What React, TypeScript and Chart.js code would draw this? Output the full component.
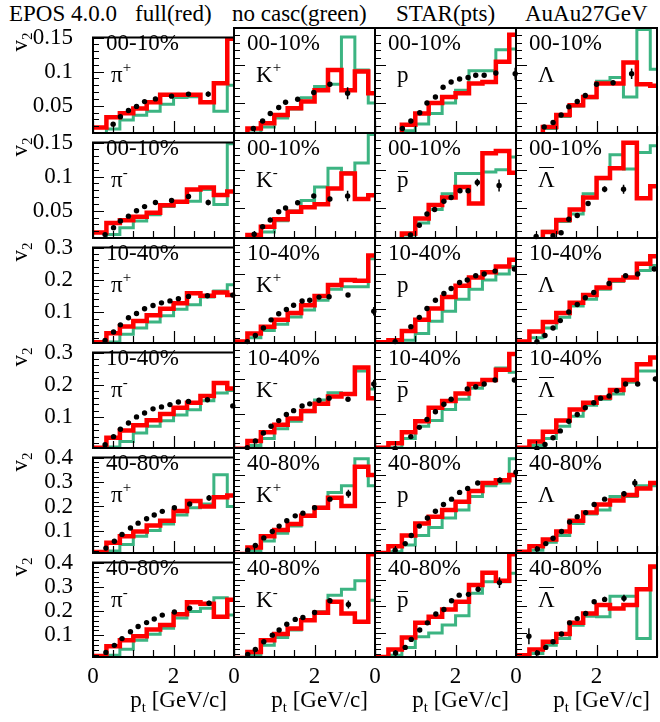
import React, { useEffect, useRef } from 'react';
import { Chart, registerables } from 'chart.js';
Chart.register(...registerables);

const FONT = "'Liberation Serif', 'Times New Roman', serif";
const RED = '#ff0000';
const GREEN = '#3cb482';
Chart.defaults.font.family = FONT;

// ---------- axes / categories ----------
const ptBinEdges = [0, 0.333, 0.667, 1.0, 1.333, 1.667, 2.0, 2.333, 2.667, 3.0, 3.333, 3.667];
const xTickLabels = [0, 2];
const yTickLabels015 = [0.05, 0.1, 0.15];
const yTickLabels03 = [0.1, 0.2, 0.3];
const yTickLabels04 = [0.1, 0.2, 0.3, 0.4];
const centralityLabels = ['00-10%', '00-10%', '10-40%', '10-40%', '40-80%', '40-80%'];
const titleParts = ['EPOS 4.0.0', 'full(red)', 'no casc(green)', 'STAR(pts)', 'AuAu27GeV'];

// ---------- 00-10%, positive ----------
const full_0010_piP = [0.018, 0.033, 0.039, 0.046, 0.055, 0.066, 0.066, 0.066, 0.055, 0.083, 0.148];
const nocasc_0010_piP = [0.008, 0.016, 0.029, 0.036, 0.042, 0.052, 0.062, 0.063, 0.055, 0.042, 0.08];
const star_0010_piP_pt = [0.5, 0.68, 0.88, 1.08, 1.28, 1.55, 1.95, 2.37, 2.86];
const star_0010_piP_v2 = [0.023, 0.034, 0.043, 0.049, 0.056, 0.06, 0.064, 0.067, 0.067];
const star_0010_piP_err = [0.001, 0.001, 0.001, 0.001, 0.001, 0.001, 0.002, 0.002, 0.004];

const full_0010_KP = [0.005, 0.016, 0.023, 0.034, 0.043, 0.052, 0.067, 0.094, 0.067, 0.092, 0.063];
const nocasc_0010_KP = [0.003, 0.01, 0.018, 0.03, 0.042, 0.057, 0.072, 0.075, 0.138, 0.094, 0.05];
const star_0010_KP_pt = [0.48, 0.71, 0.9, 1.11, 1.28, 1.58, 1.98, 2.38, 2.82];
const star_0010_KP_v2 = [0.016, 0.026, 0.036, 0.044, 0.051, 0.055, 0.064, 0.075, 0.063];
const star_0010_KP_err = [0.001, 0.001, 0.001, 0.001, 0.001, 0.002, 0.002, 0.003, 0.008];

const full_0010_p = [0.003, 0.008, 0.021, 0.036, 0.05, 0.058, 0.063, 0.076, 0.078, 0.105, 0.141];
const nocasc_0010_p = [0.002, 0.006, 0.013, 0.022, 0.036, 0.05, 0.067, 0.093, 0.093, 0.121, 0.122];
const star_0010_p_pt = [0.68, 0.89, 1.11, 1.29, 1.5, 1.69, 1.89, 2.1, 2.31, 2.5, 2.71, 3.0, 3.48];
const star_0010_p_v2 = [0.016, 0.026, 0.037, 0.05, 0.058, 0.071, 0.078, 0.082, 0.084, 0.087, 0.087, 0.09, 0.089];
const star_0010_p_err = [0.001, 0.001, 0.001, 0.001, 0.001, 0.001, 0.001, 0.001, 0.001, 0.002, 0.002, 0.003, 0.008];

const full_0010_L = [0.003, 0.008, 0.018, 0.034, 0.047, 0.058, 0.076, 0.076, 0.104, 0.075, 0.073];
const nocasc_0010_L = [0.002, 0.007, 0.016, 0.032, 0.046, 0.057, 0.079, 0.084, 0.058, 0.148, 0.095];
const star_0010_L_pt = [0.7, 0.92, 1.12, 1.31, 1.52, 1.72, 2.0, 2.41, 2.87];
const star_0010_L_v2 = [0.018, 0.024, 0.034, 0.045, 0.052, 0.06, 0.075, 0.077, 0.089];
const star_0010_L_err = [0.001, 0.001, 0.001, 0.001, 0.001, 0.002, 0.002, 0.003, 0.007];

// ---------- 00-10%, negative ----------
const full_0010_piM = [0.018, 0.032, 0.036, 0.041, 0.047, 0.058, 0.063, 0.081, 0.084, 0.073, 0.078];
const nocasc_0010_piM = [0.008, 0.015, 0.025, 0.035, 0.044, 0.056, 0.063, 0.064, 0.081, 0.059, 0.148];
const star_0010_piM_pt = [0.3, 0.51, 0.68, 0.88, 1.08, 1.28, 1.55, 1.95, 2.37, 2.86];
const star_0010_piM_v2 = [0.015, 0.025, 0.035, 0.042, 0.05, 0.056, 0.062, 0.065, 0.071, 0.062];
const star_0010_piM_err = [0.001, 0.001, 0.001, 0.001, 0.001, 0.001, 0.001, 0.002, 0.002, 0.004];

const full_0010_KM = [0.004, 0.014, 0.025, 0.035, 0.045, 0.051, 0.055, 0.076, 0.096, 0.062, 0.067];
const nocasc_0010_KM = [0.003, 0.01, 0.018, 0.033, 0.046, 0.06, 0.078, 0.103, 0.097, 0.11, 0.148];
const star_0010_KM_pt = [0.5, 0.71, 0.9, 1.11, 1.28, 1.58, 1.98, 2.38, 2.82];
const star_0010_KM_v2 = [0.015, 0.025, 0.034, 0.045, 0.05, 0.057, 0.066, 0.062, 0.066];
const star_0010_KM_err = [0.001, 0.001, 0.001, 0.001, 0.001, 0.002, 0.002, 0.003, 0.007];

const full_0010_pbar = [0.002, 0.006, 0.016, 0.036, 0.054, 0.064, 0.078, 0.056, 0.123, 0.126, 0.097];
const nocasc_0010_pbar = [0.002, 0.006, 0.014, 0.03, 0.048, 0.069, 0.096, 0.096, 0.098, 0.101, 0.118];
const star_0010_pbar_pt = [0.88, 1.1, 1.29, 1.48, 1.71, 1.89, 2.11, 2.31, 2.54, 3.08];
const star_0010_pbar_v2 = [0.014, 0.027, 0.042, 0.048, 0.059, 0.064, 0.073, 0.073, 0.084, 0.08];
const star_0010_pbar_err = [0.001, 0.001, 0.001, 0.001, 0.002, 0.002, 0.003, 0.003, 0.005, 0.008];

const full_0010_Lbar = [0.002, 0.006, 0.018, 0.034, 0.048, 0.064, 0.09, 0.103, 0.137, 0.063, 0.079];
const nocasc_0010_Lbar = [0.002, 0.006, 0.019, 0.032, 0.042, 0.069, 0.089, 0.121, 0.102, 0.124, 0.133];
const star_0010_Lbar_pt = [0.5, 0.92, 1.12, 1.31, 1.52, 1.79, 2.2, 2.67];
const star_0010_Lbar_v2 = [0.012, 0.013, 0.017, 0.035, 0.04, 0.056, 0.075, 0.075];
const star_0010_Lbar_err = [0.002, 0.002, 0.002, 0.002, 0.002, 0.003, 0.004, 0.006];

// ---------- 10-40%, positive ----------
const full_1040_piP = [0.007, 0.035, 0.056, 0.073, 0.091, 0.111, 0.128, 0.159, 0.151, 0.161, 0.153];
const nocasc_1040_piP = [0.003, 0.008, 0.032, 0.051, 0.07, 0.089, 0.109, 0.123, 0.147, 0.166, 0.185];
const star_1040_piP_pt = [0.3, 0.51, 0.68, 0.88, 1.08, 1.28, 1.49, 1.7, 1.91, 2.12, 2.37, 2.84, 3.47];
const star_1040_piP_v2 = [0.013, 0.039, 0.061, 0.083, 0.096, 0.111, 0.121, 0.129, 0.135, 0.142, 0.149, 0.151, 0.153];
const star_1040_piP_err = [0.001, 0.001, 0.001, 0.001, 0.001, 0.001, 0.001, 0.001, 0.001, 0.002, 0.002, 0.003, 0.005];

const full_1040_KP = [0.009, 0.032, 0.051, 0.07, 0.089, 0.111, 0.137, 0.168, 0.182, 0.18, 0.251];
const nocasc_1040_KP = [0.005, 0.02, 0.04, 0.058, 0.078, 0.098, 0.125, 0.156, 0.163, 0.163, 0.242];
const star_1040_KP_pt = [0.33, 0.53, 0.73, 0.92, 1.11, 1.3, 1.48, 1.69, 1.88, 2.11, 2.36, 2.83, 3.47];
const star_1040_KP_v2 = [0.009, 0.026, 0.047, 0.07, 0.087, 0.099, 0.111, 0.123, 0.125, 0.134, 0.135, 0.14, 0.094];
const star_1040_KP_err = [0.001, 0.001, 0.001, 0.001, 0.001, 0.001, 0.001, 0.002, 0.002, 0.002, 0.003, 0.005, 0.012];

const full_1040_p = [0.007, 0.013, 0.039, 0.07, 0.102, 0.134, 0.166, 0.189, 0.204, 0.22, 0.239];
const nocasc_1040_p = [0.004, 0.006, 0.013, 0.032, 0.066, 0.094, 0.128, 0.156, 0.182, 0.199, 0.22];
const star_1040_p_pt = [0.5, 0.89, 1.1, 1.29, 1.5, 1.71, 1.89, 2.1, 2.29, 2.5, 2.71, 2.98, 3.46];
const star_1040_p_v2 = [0.009, 0.051, 0.077, 0.102, 0.125, 0.144, 0.158, 0.175, 0.182, 0.194, 0.199, 0.207, 0.213];
const star_1040_p_err = [0.001, 0.001, 0.001, 0.001, 0.001, 0.001, 0.001, 0.001, 0.002, 0.002, 0.002, 0.003, 0.005];

const full_1040_L = [0.009, 0.037, 0.064, 0.089, 0.118, 0.14, 0.161, 0.182, 0.189, 0.228, 0.249];
const nocasc_1040_L = [0.005, 0.02, 0.047, 0.077, 0.109, 0.128, 0.156, 0.178, 0.19, 0.209, 0.223];
const star_1040_L_pt = [0.52, 0.72, 0.92, 1.1, 1.31, 1.52, 1.72, 1.93, 2.31, 2.72, 3.02, 3.43];
const star_1040_L_v2 = [0.009, 0.026, 0.047, 0.068, 0.092, 0.113, 0.132, 0.147, 0.172, 0.194, 0.199, 0.213];
const star_1040_L_err = [0.001, 0.001, 0.001, 0.001, 0.001, 0.001, 0.001, 0.002, 0.002, 0.003, 0.004, 0.006];

// ---------- 10-40%, negative ----------
const full_1040_piM = [0.006, 0.037, 0.059, 0.075, 0.091, 0.11, 0.129, 0.145, 0.166, 0.206, 0.189];
const nocasc_1040_piM = [0.003, 0.008, 0.025, 0.051, 0.072, 0.089, 0.107, 0.123, 0.151, 0.175, 0.183];
const star_1040_piM_pt = [0.3, 0.51, 0.68, 0.88, 1.08, 1.28, 1.49, 1.7, 1.91, 2.12, 2.37, 2.84, 3.47];
const star_1040_piM_v2 = [0.015, 0.04, 0.063, 0.082, 0.101, 0.113, 0.126, 0.132, 0.139, 0.147, 0.149, 0.154, 0.135];
const star_1040_piM_err = [0.001, 0.001, 0.001, 0.001, 0.001, 0.001, 0.001, 0.001, 0.001, 0.002, 0.002, 0.003, 0.005];

const full_1040_KM = [0.003, 0.025, 0.049, 0.07, 0.088, 0.109, 0.129, 0.15, 0.157, 0.231, 0.145];
const nocasc_1040_KM = [0.002, 0.012, 0.032, 0.059, 0.08, 0.107, 0.14, 0.16, 0.156, 0.221, 0.171];
const star_1040_KM_pt = [0.33, 0.53, 0.73, 0.92, 1.11, 1.3, 1.48, 1.69, 1.88, 2.11, 2.36, 2.83, 3.47];
const star_1040_KM_v2 = [0.006, 0.025, 0.047, 0.066, 0.082, 0.099, 0.11, 0.123, 0.129, 0.139, 0.145, 0.142, 0.185];
const star_1040_KM_err = [0.001, 0.001, 0.001, 0.001, 0.001, 0.001, 0.001, 0.002, 0.002, 0.002, 0.003, 0.005, 0.012];

const full_1040_pbar = [0.006, 0.018, 0.049, 0.08, 0.118, 0.137, 0.158, 0.185, 0.196, 0.225, 0.269];
const nocasc_1040_pbar = [0.003, 0.006, 0.032, 0.066, 0.082, 0.113, 0.142, 0.173, 0.196, 0.23, 0.218];
const star_1040_pbar_pt = [0.5, 0.89, 1.1, 1.29, 1.5, 1.71, 1.89, 2.29, 2.5, 2.71, 2.98, 3.46];
const star_1040_pbar_v2 = [0.003, 0.037, 0.063, 0.085, 0.107, 0.128, 0.142, 0.171, 0.177, 0.185, 0.196, 0.196];
const star_1040_pbar_err = [0.001, 0.001, 0.001, 0.001, 0.001, 0.001, 0.002, 0.002, 0.002, 0.003, 0.003, 0.006];

const full_1040_Lbar = [0.006, 0.023, 0.051, 0.082, 0.113, 0.132, 0.147, 0.168, 0.196, 0.24, 0.259];
const nocasc_1040_Lbar = [0.003, 0.012, 0.032, 0.066, 0.094, 0.125, 0.142, 0.157, 0.19, 0.221, 0.221];
const star_1040_Lbar_pt = [0.52, 0.72, 0.92, 1.1, 1.31, 1.52, 1.72, 1.93, 2.1, 2.31, 2.5, 2.72, 3.02, 3.46];
const star_1040_Lbar_v2 = [0.004, 0.015, 0.034, 0.053, 0.08, 0.099, 0.118, 0.132, 0.145, 0.151, 0.166, 0.185, 0.185, 0.199];
const star_1040_Lbar_err = [0.001, 0.001, 0.001, 0.001, 0.001, 0.001, 0.001, 0.002, 0.002, 0.002, 0.002, 0.003, 0.004, 0.006];

// ---------- 40-80%, positive ----------
const full_4080_piP = [0.014, 0.052, 0.078, 0.098, 0.122, 0.142, 0.182, 0.222, 0.2, 0.238, 0.245];
const nocasc_4080_piP = [0.01, 0.018, 0.045, 0.078, 0.102, 0.128, 0.165, 0.195, 0.21, 0.33, 0.2];
const star_4080_piP_pt = [0.32, 0.53, 0.72, 0.93, 1.12, 1.33, 1.52, 1.72, 2.02, 2.4, 2.88];
const star_4080_piP_v2 = [0.03, 0.058, 0.086, 0.112, 0.132, 0.15, 0.165, 0.18, 0.195, 0.21, 0.235];
const star_4080_piP_err = [0.002, 0.002, 0.002, 0.002, 0.002, 0.002, 0.003, 0.003, 0.004, 0.006, 0.012];

const full_4080_KP = [0.006, 0.03, 0.072, 0.095, 0.118, 0.148, 0.178, 0.215, 0.185, 0.33, 0.3];
const nocasc_4080_KP = [0.005, 0.018, 0.055, 0.083, 0.11, 0.15, 0.18, 0.235, 0.26, 0.36, 0.26];
const star_4080_KP_pt = [0.34, 0.53, 0.74, 0.95, 1.12, 1.31, 1.52, 1.71, 2.0, 2.38, 2.84];
const star_4080_KP_v2 = [0.02, 0.038, 0.066, 0.09, 0.11, 0.13, 0.148, 0.158, 0.178, 0.21, 0.23];
const star_4080_KP_err = [0.002, 0.002, 0.002, 0.002, 0.002, 0.003, 0.003, 0.004, 0.005, 0.008, 0.015];

const full_4080_p = [0.01, 0.035, 0.075, 0.12, 0.145, 0.17, 0.2, 0.24, 0.27, 0.28, 0.3];
const nocasc_4080_p = [0.005, 0.015, 0.04, 0.075, 0.105, 0.14, 0.17, 0.22, 0.26, 0.27, 0.36];
const star_4080_p_pt = [0.5, 0.75, 0.9, 1.1, 1.3, 1.5, 1.7, 1.9, 2.1, 2.3, 2.55, 3.1, 3.5];
const star_4080_p_v2 = [0.02, 0.045, 0.075, 0.11, 0.14, 0.165, 0.19, 0.21, 0.235, 0.25, 0.27, 0.28, 0.31];
const star_4080_p_err = [0.002, 0.002, 0.002, 0.002, 0.002, 0.003, 0.003, 0.003, 0.004, 0.005, 0.006, 0.01, 0.02];

const full_4080_L = [0.015, 0.035, 0.06, 0.09, 0.13, 0.16, 0.19, 0.205, 0.225, 0.25, 0.27];
const nocasc_4080_L = [0.01, 0.02, 0.05, 0.075, 0.12, 0.155, 0.17, 0.22, 0.22, 0.26, 0.26];
const star_4080_L_pt = [0.53, 0.74, 0.92, 1.13, 1.33, 1.52, 1.73, 1.94, 2.2, 2.68, 2.95];
const star_4080_L_v2 = [0.025, 0.045, 0.065, 0.09, 0.125, 0.145, 0.16, 0.19, 0.21, 0.23, 0.27];
const star_4080_L_err = [0.003, 0.003, 0.003, 0.003, 0.003, 0.004, 0.004, 0.005, 0.007, 0.01, 0.015];

// ---------- 40-80%, negative ----------
const full_4080_piM = [0.014, 0.054, 0.079, 0.096, 0.123, 0.142, 0.186, 0.236, 0.23, 0.176, 0.246];
const nocasc_4080_piM = [0.01, 0.017, 0.042, 0.079, 0.104, 0.129, 0.171, 0.198, 0.211, 0.255, 0.183];
const star_4080_piM_pt = [0.32, 0.53, 0.72, 0.93, 1.12, 1.33, 1.52, 1.72, 2.02, 2.4, 2.88];
const star_4080_piM_v2 = [0.029, 0.058, 0.086, 0.114, 0.136, 0.152, 0.167, 0.183, 0.196, 0.211, 0.232];
const star_4080_piM_err = [0.002, 0.002, 0.002, 0.002, 0.002, 0.002, 0.003, 0.003, 0.004, 0.006, 0.01];

const full_4080_KM = [0.006, 0.029, 0.073, 0.096, 0.117, 0.148, 0.176, 0.217, 0.173, 0.142, 0.395];
const nocasc_4080_KM = [0.005, 0.017, 0.054, 0.083, 0.111, 0.151, 0.18, 0.242, 0.264, 0.296, 0.223];
const star_4080_KM_pt = [0.34, 0.53, 0.74, 0.95, 1.12, 1.31, 1.52, 1.71, 2.0, 2.38, 2.84];
const star_4080_KM_v2 = [0.02, 0.038, 0.067, 0.092, 0.111, 0.133, 0.151, 0.158, 0.177, 0.221, 0.207];
const star_4080_KM_err = [0.002, 0.002, 0.002, 0.002, 0.002, 0.003, 0.003, 0.004, 0.005, 0.008, 0.015];

const full_4080_pbar = [0.01, 0.038, 0.083, 0.138, 0.161, 0.188, 0.217, 0.28, 0.326, 0.296, 0.395];
const nocasc_4080_pbar = [0.005, 0.017, 0.046, 0.086, 0.1, 0.13, 0.165, 0.249, 0.292, 0.292, 0.324];
const star_4080_pbar_pt = [0.51, 0.75, 0.9, 1.11, 1.3, 1.51, 1.71, 1.9, 2.09, 2.32, 2.56, 3.09];
const star_4080_pbar_v2 = [0.025, 0.046, 0.076, 0.111, 0.138, 0.171, 0.188, 0.221, 0.242, 0.245, 0.264, 0.289];
const star_4080_pbar_err = [0.002, 0.002, 0.002, 0.002, 0.003, 0.003, 0.003, 0.004, 0.005, 0.006, 0.008, 0.02];

const full_4080_Lbar = [0.017, 0.038, 0.067, 0.096, 0.138, 0.173, 0.205, 0.192, 0.205, 0.264, 0.349];
const nocasc_4080_Lbar = [0.01, 0.023, 0.054, 0.079, 0.129, 0.163, 0.161, 0.238, 0.238, 0.079, 0.345];
const star_4080_Lbar_pt = [0.32, 0.53, 0.74, 0.92, 1.13, 1.33, 1.52, 1.73, 1.94, 2.2, 2.68];
const star_4080_Lbar_v2 = [0.088, 0.025, 0.046, 0.067, 0.096, 0.138, 0.154, 0.173, 0.217, 0.226, 0.23];
const star_4080_Lbar_err = [0.03, 0.003, 0.003, 0.003, 0.003, 0.004, 0.004, 0.005, 0.007, 0.01, 0.013];

// ---------- panel table (rows: centrality/charge, cols: species) ----------
type PanelData = { full: number[]; nocasc: number[]; pt: number[]; v2: number[]; err: number[] };
const mk = (full: number[], nocasc: number[], pt: number[], v2: number[], err: number[]): PanelData => ({ full, nocasc, pt, v2, err });

const PANELS: PanelData[][] = [
  [
    mk(full_0010_piP, nocasc_0010_piP, star_0010_piP_pt, star_0010_piP_v2, star_0010_piP_err),
    mk(full_0010_KP, nocasc_0010_KP, star_0010_KP_pt, star_0010_KP_v2, star_0010_KP_err),
    mk(full_0010_p, nocasc_0010_p, star_0010_p_pt, star_0010_p_v2, star_0010_p_err),
    mk(full_0010_L, nocasc_0010_L, star_0010_L_pt, star_0010_L_v2, star_0010_L_err),
  ],
  [
    mk(full_0010_piM, nocasc_0010_piM, star_0010_piM_pt, star_0010_piM_v2, star_0010_piM_err),
    mk(full_0010_KM, nocasc_0010_KM, star_0010_KM_pt, star_0010_KM_v2, star_0010_KM_err),
    mk(full_0010_pbar, nocasc_0010_pbar, star_0010_pbar_pt, star_0010_pbar_v2, star_0010_pbar_err),
    mk(full_0010_Lbar, nocasc_0010_Lbar, star_0010_Lbar_pt, star_0010_Lbar_v2, star_0010_Lbar_err),
  ],
  [
    mk(full_1040_piP, nocasc_1040_piP, star_1040_piP_pt, star_1040_piP_v2, star_1040_piP_err),
    mk(full_1040_KP, nocasc_1040_KP, star_1040_KP_pt, star_1040_KP_v2, star_1040_KP_err),
    mk(full_1040_p, nocasc_1040_p, star_1040_p_pt, star_1040_p_v2, star_1040_p_err),
    mk(full_1040_L, nocasc_1040_L, star_1040_L_pt, star_1040_L_v2, star_1040_L_err),
  ],
  [
    mk(full_1040_piM, nocasc_1040_piM, star_1040_piM_pt, star_1040_piM_v2, star_1040_piM_err),
    mk(full_1040_KM, nocasc_1040_KM, star_1040_KM_pt, star_1040_KM_v2, star_1040_KM_err),
    mk(full_1040_pbar, nocasc_1040_pbar, star_1040_pbar_pt, star_1040_pbar_v2, star_1040_pbar_err),
    mk(full_1040_Lbar, nocasc_1040_Lbar, star_1040_Lbar_pt, star_1040_Lbar_v2, star_1040_Lbar_err),
  ],
  [
    mk(full_4080_piP, nocasc_4080_piP, star_4080_piP_pt, star_4080_piP_v2, star_4080_piP_err),
    mk(full_4080_KP, nocasc_4080_KP, star_4080_KP_pt, star_4080_KP_v2, star_4080_KP_err),
    mk(full_4080_p, nocasc_4080_p, star_4080_p_pt, star_4080_p_v2, star_4080_p_err),
    mk(full_4080_L, nocasc_4080_L, star_4080_L_pt, star_4080_L_v2, star_4080_L_err),
  ],
  [
    mk(full_4080_piM, nocasc_4080_piM, star_4080_piM_pt, star_4080_piM_v2, star_4080_piM_err),
    mk(full_4080_KM, nocasc_4080_KM, star_4080_KM_pt, star_4080_KM_v2, star_4080_KM_err),
    mk(full_4080_pbar, nocasc_4080_pbar, star_4080_pbar_pt, star_4080_pbar_v2, star_4080_pbar_err),
    mk(full_4080_Lbar, nocasc_4080_Lbar, star_4080_Lbar_pt, star_4080_Lbar_v2, star_4080_Lbar_err),
  ],
];

// ---------- layout (positions & styles) ----------
const COL_LEFT = [93, 234, 375, 516];
const COL_W = 141;
const ROW_TOP = [28, 133, 238, 343, 448, 553];
const ROW_H = [105, 105, 105, 105, 105, 104];
const PAD_L = 70, PAD_T = 14, PAD_R = 6, PAD_B = 30;
const ROW_Y = [
  { min: 0.01, max: 0.15, major: 0.05, minor: 0.01, labels: yTickLabels015 },
  { min: 0.01, max: 0.15, major: 0.05, minor: 0.01, labels: yTickLabels015 },
  { min: 0.005, max: 0.3, major: 0.1, minor: 0.02, labels: yTickLabels03 },
  { min: 0.005, max: 0.3, major: 0.1, minor: 0.02, labels: yTickLabels03 },
  { min: 0.01, max: 0.4, major: 0.1, minor: 0.02, labels: yTickLabels04 },
  { min: 0.01, max: 0.4, major: 0.1, minor: 0.02, labels: yTickLabels04 },
];
const X_MIN = 0, X_MAX = 3.5;
const FS = 23;

const fmt = (v: number) => String(parseFloat(Number(v).toFixed(3)));

function Panel({ r, c }: { r: number; c: number }) {
  const ref = useRef<HTMLCanvasElement>(null);
  const W = PAD_L + COL_W + PAD_R;
  const H = PAD_T + ROW_H[r] + PAD_B;
  useEffect(() => {
    const d = PANELS[r][c];
    const ry = ROW_Y[r];
    const step = (vals: number[]) => {
      const pts = vals.map((v, i) => ({ x: ptBinEdges[i], y: v }));
      pts.push({ x: ptBinEdges[vals.length], y: vals[vals.length - 1] });
      return pts;
    };
    const rootPlugin = {
      id: 'rootFrame',
      afterDatasetsDraw(chart: any) {
        const { ctx, chartArea: a } = chart;
        const xs = chart.scales.x, ys = chart.scales.y;
        ctx.save();
        ctx.beginPath();
        ctx.rect(a.left, a.top, a.right - a.left, a.bottom - a.top);
        ctx.clip();
        ctx.strokeStyle = '#000';
        ctx.lineWidth = 1.5;
        ctx.beginPath();
        d.pt.forEach((p, i) => {
          const e = d.err[i];
          const px = xs.getPixelForValue(p);
          ctx.moveTo(px, ys.getPixelForValue(d.v2[i] - e));
          ctx.lineTo(px, ys.getPixelForValue(d.v2[i] + e));
        });
        ctx.stroke();
        ctx.restore();

        ctx.save();
        ctx.strokeStyle = '#000';
        ctx.lineWidth = 1.2;
        ctx.beginPath();
        const k0 = Math.ceil(ry.min / ry.minor - 1e-6);
        for (let k = k0; k * ry.minor <= ry.max + 1e-9; k++) {
          const v = k * ry.minor;
          const py = Math.round(ys.getPixelForValue(v)) + 0.5;
          const q = v / ry.major;
          const major = Math.abs(q - Math.round(q)) < 1e-6;
          ctx.moveTo(a.left, py);
          ctx.lineTo(a.left + (major ? 11 : 6), py);
        }
        for (let k = 0; k * 0.5 <= X_MAX + 1e-9; k++) {
          const v = k * 0.5;
          const px = Math.round(xs.getPixelForValue(v)) + 0.5;
          const major = Math.abs(v / 2 - Math.round(v / 2)) < 1e-6;
          ctx.moveTo(px, a.bottom);
          ctx.lineTo(px, a.bottom - (major ? 12 : 7));
        }
        ctx.stroke();
        ctx.lineWidth = 2;
        ctx.strokeRect(a.left, a.top, a.right - a.left, a.bottom - a.top);
        ctx.restore();
      },
    };
    const chart = new Chart(ref.current as HTMLCanvasElement, {
      type: 'line',
      data: {
        datasets: [
          {
            type: 'line', label: 'no casc', data: step(d.nocasc), borderColor: GREEN, borderWidth: 3,
            stepped: 'before', pointRadius: 0, fill: false, clip: 0, order: 3,
          } as any,
          {
            type: 'line', label: 'full', data: step(d.full), borderColor: RED, borderWidth: 4.5,
            stepped: 'before', pointRadius: 0, fill: false, clip: 0, order: 2,
          } as any,
          {
            type: 'scatter', label: 'STAR', data: d.pt.map((p, i) => ({ x: p, y: d.v2[i] })),
            backgroundColor: '#000', borderColor: '#000', pointRadius: 2.7, pointBorderWidth: 0, clip: 2, order: 1,
          } as any,
        ],
      },
      options: {
        animation: false,
        responsive: false,
        maintainAspectRatio: false,
        events: [],
        layout: { padding: { left: 0, top: PAD_T, right: PAD_R, bottom: 0 } },
        plugins: { legend: { display: false }, tooltip: { enabled: false }, title: { display: false } },
        scales: {
          x: {
            type: 'linear', min: X_MIN, max: X_MAX, bounds: 'data', position: 'bottom',
            afterFit: (s: any) => { s.height = PAD_B; },
            afterBuildTicks: (s: any) => { s.ticks = xTickLabels.map((v) => ({ value: v })); },
            grid: { display: false }, border: { display: false },
            ticks: {
              display: r === 5, autoSkip: false, maxRotation: 0, padding: 0, color: '#000',
              font: { family: FONT, size: FS, lineHeight: 1 }, callback: (v: any) => fmt(v),
            },
          },
          y: {
            type: 'linear', min: ry.min, max: ry.max, bounds: 'data', position: 'left',
            afterFit: (s: any) => { s.width = PAD_L; },
            afterBuildTicks: (s: any) => { s.ticks = ry.labels.map((v) => ({ value: v })); },
            grid: { display: false }, border: { display: false },
            ticks: {
              display: c === 0, autoSkip: false, padding: 12, color: '#000',
              font: { family: FONT, size: FS, lineHeight: 1 }, callback: (v: any) => fmt(v),
            },
          },
        },
      } as any,
      plugins: [rootPlugin],
    });
    return () => chart.destroy();
  }, [r, c]);
  return (
    <canvas
      ref={ref}
      width={W}
      height={H}
      style={{ position: 'absolute', left: COL_LEFT[c] - PAD_L, top: ROW_TOP[r] - PAD_T, width: W, height: H }}
    />
  );
}

const TXT: React.CSSProperties = {
  position: 'absolute', fontFamily: FONT, fontSize: FS, lineHeight: FS + 'px', whiteSpace: 'nowrap', color: '#000',
};
const BASE = 0.8375 * FS;

function T({ x, base, right, children }: { x: number; base: number; right?: boolean; children: React.ReactNode }) {
  return (
    <div style={{ ...TXT, left: x, top: base - BASE, transform: right ? 'translateX(-100%)' : undefined }}>{children}</div>
  );
}
const Sup = ({ children }: { children: React.ReactNode }) => (
  <span style={{ fontSize: 15, position: 'relative', top: -10 }}>{children}</span>
);
const Sub = ({ children }: { children: React.ReactNode }) => (
  <span style={{ fontSize: 15, position: 'relative', top: 5 }}>{children}</span>
);
const Bar = ({ children, top }: { children: React.ReactNode; top: number }) => (
  <span style={{ position: 'relative', display: 'inline-block' }}>
    {children}
    <span style={{ position: 'absolute', left: 1, right: 1, top, height: 0, borderTop: '1.5px solid #000' }} />
  </span>
);

function particle(r: number, c: number): React.ReactNode {
  const neg = r % 2 === 1;
  if (c === 0) return <>π<Sup>{neg ? '-' : '+'}</Sup></>;
  if (c === 1) return <>K<Sup>{neg ? '-' : '+'}</Sup></>;
  if (c === 2) return neg ? <Bar top={3}>p</Bar> : <>p</>;
  return neg ? <Bar top={-1}>Λ</Bar> : <>Λ</>;
}

export default function App() {
  const cells: React.ReactNode[] = [];
  for (let r = 0; r < 6; r++) {
    for (let c = 0; c < 4; c++) {
      cells.push(<Panel key={`p${r}${c}`} r={r} c={c} />);
    }
  }
  const labels: React.ReactNode[] = [];
  for (let r = 0; r < 6; r++) {
    for (let c = 0; c < 4; c++) {
      labels.push(
        <T key={`cen${r}${c}`} x={COL_LEFT[c] + 13} base={ROW_TOP[r] + 22.5}>{centralityLabels[r]}</T>
      );
      labels.push(
        <T key={`par${r}${c}`} x={COL_LEFT[c] + (c === 0 ? 18 : 22)} base={ROW_TOP[r] + 54}>{particle(r, c)}</T>
      );
    }
    labels.push(
      <div
        key={`v2${r}`}
        style={{ ...TXT, left: 21, top: ROW_TOP[r] + 14, transform: 'translate(-50%,-50%) rotate(-90deg)' }}
      >
        v<Sub>2</Sub>
      </div>
    );
  }
  for (let c = 0; c < 4; c++) {
    labels.push(
      <T key={`pt${c}`} x={COL_LEFT[c] + COL_W - 7} base={707} right>
        p<Sub>t</Sub> [GeV/c]
      </T>
    );
  }
  const titleX = [9, 135, 232, 396, 525];
  return (
    <div style={{ position: 'absolute', left: 0, top: 0, width: 660, height: 722, background: '#fff', overflow: 'hidden' }}>
      {titleParts.map((t, i) => (
        <T key={`t${i}`} x={titleX[i]} base={21}>{t}</T>
      ))}
      {cells}
      {labels}
    </div>
  );
}
